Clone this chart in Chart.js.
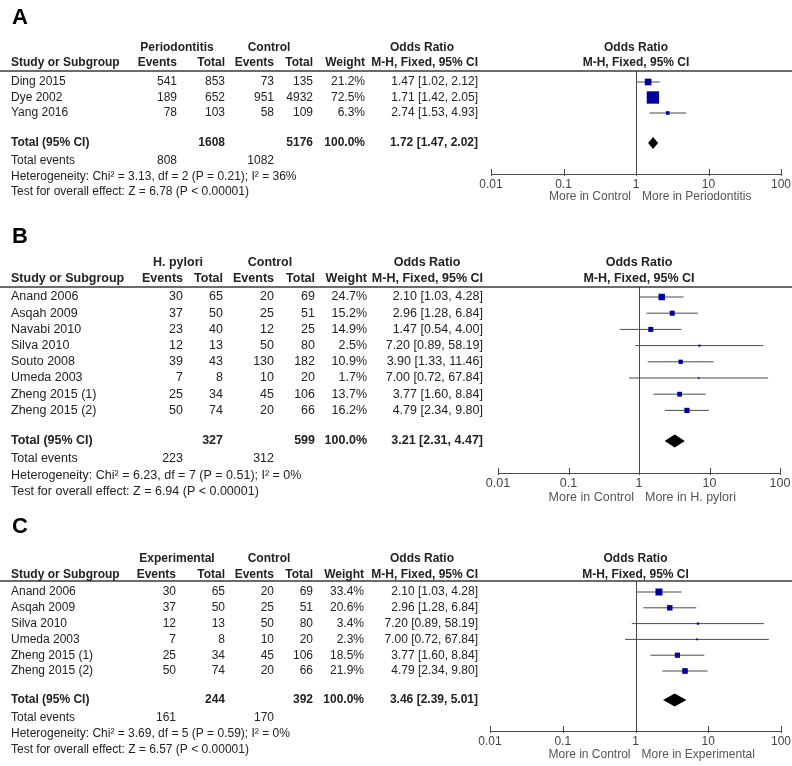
<!DOCTYPE html>
<html>
<head>
<meta charset="utf-8">
<script src="https://cdn.jsdelivr.net/npm/chart.js@4/dist/chart.umd.min.js"></script>
<style>
html,body{margin:0;padding:0;background:#fff;}
#wrap{position:relative;width:792px;height:766px;overflow:hidden;background:#fff;}
canvas{position:absolute;left:0;display:block;}
</style>
</head>
<body>
<div id="wrap">
<canvas id="cA" width="792" height="210" style="top:0px;width:792px;height:210px"></canvas>
<canvas id="cB" width="792" height="300" style="top:210px;width:792px;height:300px"></canvas>
<canvas id="cC" width="792" height="256" style="top:510px;width:792px;height:256px"></canvas>
</div>
<script>
// ---------- shared axis ----------
const axisTicks = [0.01, 0.1, 1, 10, 100];
const axisTickLabels = ["0.01", "0.1", "1", "10", "100"];

// ---------- Panel A ----------
const studiesA   = ["Ding 2015", "Dye 2002", "Yang 2016"];
const expEventsA = [541, 189, 78];
const expTotalA  = [853, 652, 103];
const ctlEventsA = [73, 951, 58];
const ctlTotalA  = [135, 4932, 109];
const weightA    = [21.2, 72.5, 6.3];
const orA        = [1.47, 1.71, 2.74];
const loA        = [1.02, 1.42, 1.53];
const hiA        = [2.12, 2.05, 4.93];
const totalsA      = [1608, 5176];
const totalEventsA = [808, 1082];
const pooledA      = [1.72, 1.47, 2.02];
const groupsA   = ["Periodontitis", "Control"];
const favoursA  = ["More in Control", "More in Periodontitis"];
const hetA  = "Heterogeneity: Chi\u00B2 = 3.13, df = 2 (P = 0.21); I\u00B2 = 36%";
const testA = "Test for overall effect: Z = 6.78 (P < 0.00001)";

// ---------- Panel B ----------
const studiesB   = ["Anand 2006", "Asqah 2009", "Navabi 2010", "Silva 2010", "Souto 2008", "Umeda 2003", "Zheng 2015 (1)", "Zheng 2015 (2)"];
const expEventsB = [30, 37, 23, 12, 39, 7, 25, 50];
const expTotalB  = [65, 50, 40, 13, 43, 8, 34, 74];
const ctlEventsB = [20, 25, 12, 50, 130, 10, 45, 20];
const ctlTotalB  = [69, 51, 25, 80, 182, 20, 106, 66];
const weightB    = [24.7, 15.2, 14.9, 2.5, 10.9, 1.7, 13.7, 16.2];
const orB        = [2.10, 2.96, 1.47, 7.20, 3.90, 7.00, 3.77, 4.79];
const loB        = [1.03, 1.28, 0.54, 0.89, 1.33, 0.72, 1.60, 2.34];
const hiB        = [4.28, 6.84, 4.00, 58.19, 11.46, 67.84, 8.84, 9.80];
const totalsB      = [327, 599];
const totalEventsB = [223, 312];
const pooledB      = [3.21, 2.31, 4.47];
const groupsB   = ["H. pylori", "Control"];
const favoursB  = ["More in Control", "More in H. pylori"];
const hetB  = "Heterogeneity: Chi\u00B2 = 6.23, df = 7 (P = 0.51); I\u00B2 = 0%";
const testB = "Test for overall effect: Z = 6.94 (P < 0.00001)";

// ---------- Panel C ----------
const studiesC   = ["Anand 2006", "Asqah 2009", "Silva 2010", "Umeda 2003", "Zheng 2015 (1)", "Zheng 2015 (2)"];
const expEventsC = [30, 37, 12, 7, 25, 50];
const expTotalC  = [65, 50, 13, 8, 34, 74];
const ctlEventsC = [20, 25, 50, 10, 45, 20];
const ctlTotalC  = [69, 51, 80, 20, 106, 66];
const weightC    = [33.4, 20.6, 3.4, 2.3, 18.5, 21.9];
const orC        = [2.10, 2.96, 7.20, 7.00, 3.77, 4.79];
const loC        = [1.03, 1.28, 0.89, 0.72, 1.60, 2.34];
const hiC        = [4.28, 6.84, 58.19, 67.84, 8.84, 9.80];
const totalsC      = [244, 392];
const totalEventsC = [161, 170];
const pooledC      = [3.46, 2.39, 5.01];
const groupsC   = ["Experimental", "Control"];
const favoursC  = ["More in Control", "More in Experimental"];
const hetC  = "Heterogeneity: Chi\u00B2 = 3.69, df = 5 (P = 0.59); I\u00B2 = 0%";
const testC = "Test for overall effect: Z = 6.57 (P < 0.00001)";

// ---------- layout (pixels, panel-relative) ----------
const FONT = '"Liberation Sans", Arial, Helvetica, sans-serif';
const TXT = '#222';
const XH = 30; // forced height of the x axis box

const layoutA = {letter:'A', H:210, letterY:24, hdr1:48, hdr2:63, line:71, row0:82, sp:15.5, axis:174,
  totalGap:0.94, foot:[18,34,49], x0:491, x1:781, moreY:197, k:1.45, dh:6, fs:12,
  cName:11, cEE:177, cET:225, cCE:274, cCT:313, cW:365, cOR:478, cORH:422, cG:[177,269]};
const layoutB = {letter:'B', H:300, letterY:33, hdr1:53, hdr2:69, line:77, row0:87, sp:16.2, axis:263,
  totalGap:0.89, foot:[18,35,51], x0:498, x1:780, moreY:288, k:1.3, dh:6.5, fs:12.5,
  cName:11, cEE:183, cET:223, cCE:274, cCT:315, cW:367, cOR:483, cORH:427, cG:[178,270]};
const layoutC = {letter:'C', H:256, letterY:23, hdr1:49, hdr2:65, line:71, row0:82, sp:15.8, axis:221,
  totalGap:0.84, foot:[18,34,50], x0:490, x1:781, moreY:245, k:1.2, dh:6.5, fs:12,
  cName:11, cEE:176, cET:225, cCE:274, cCT:313, cW:364, cOR:478, cORH:422, cG:[177,269]};

function fmtOR(o, l, h) { return o.toFixed(2) + ' [' + l.toFixed(2) + ', ' + h.toFixed(2) + ']'; }

function makePanel(id, L, d) {
  const n = d.studies.length;
  const totalRow = n + L.totalGap;
  const yMin = -(L.row0 - L.line) / L.sp;
  const yMax = yMin + (L.axis - L.line) / L.sp;

  const datasets = [];
  datasets.push({
    label: 'OR', order: 0,
    data: d.or.map((v, i) => ({x: v, y: i, w: d.weight[i]})),
    pointStyle: 'rect',
    pointRadius: ctx => (ctx.raw ? L.k * Math.sqrt(ctx.raw.w) / Math.SQRT2 : 0),
    pointHoverRadius: ctx => (ctx.raw ? L.k * Math.sqrt(ctx.raw.w) / Math.SQRT2 : 0),
    backgroundColor: '#0000A0', borderWidth: 0, showLine: false
  });
  d.studies.forEach((s, i) => {
    datasets.push({
      label: s + ' CI', order: 1,
      data: [{x: d.lo[i], y: i}, {x: d.hi[i], y: i}],
      showLine: true, borderColor: '#4a4a4a', borderWidth: 1, pointRadius: 0, pointHoverRadius: 0, fill: false
    });
  });

  const tablePlugin = {
    id: 'forestTable',
    afterDatasetsDraw(chart) {
      const ctx = chart.ctx, x = chart.scales.x, y = chart.scales.y;
      const cy = y.getPixelForValue(totalRow);
      ctx.save();
      ctx.fillStyle = '#000';
      ctx.beginPath();
      ctx.moveTo(x.getPixelForValue(d.pooled[1]), cy);
      ctx.lineTo(x.getPixelForValue(d.pooled[0]), cy - L.dh);
      ctx.lineTo(x.getPixelForValue(d.pooled[2]), cy);
      ctx.lineTo(x.getPixelForValue(d.pooled[0]), cy + L.dh);
      ctx.closePath();
      ctx.fill();
      ctx.restore();
    },
    afterDraw(chart) {
      const ctx = chart.ctx, x = chart.scales.x, y = chart.scales.y;
      const ca = chart.chartArea;
      const p1 = x.getPixelForValue(1);
      ctx.save();
      ctx.strokeStyle = '#4a4a4a'; ctx.lineWidth = 1;
      ctx.beginPath();
      ctx.moveTo(Math.round(p1) + 0.5, L.line);
      ctx.lineTo(Math.round(p1) + 0.5, Math.round(ca.bottom));
      ctx.stroke();
      x.ticks.forEach(t => {
        const px = Math.round(x.getPixelForValue(t.value)) + 0.5;
        ctx.beginPath();
        ctx.moveTo(px, Math.round(ca.bottom) - 5);
        ctx.lineTo(px, Math.round(ca.bottom) + 2);
        ctx.stroke();
      });
      ctx.strokeStyle = '#3a3a3a'; ctx.lineWidth = 1.5;
      ctx.beginPath();
      ctx.moveTo(0, L.line); ctx.lineTo(792, L.line);
      ctx.stroke();

      const font = (b) => (b ? 'bold ' : '') + L.fs + 'px ' + FONT;
      const T = (s, px, py, align, bold, color) => {
        ctx.font = font(bold); ctx.textAlign = align; ctx.fillStyle = color || TXT;
        ctx.textBaseline = 'middle'; ctx.fillText(s, px, py);
      };
      ctx.font = 'bold 22px ' + FONT; ctx.textAlign = 'left'; ctx.textBaseline = 'alphabetic';
      ctx.fillStyle = '#000'; ctx.fillText(L.letter, 12, L.letterY);

      T(d.groups[0], L.cG[0], L.hdr1, 'center', true);
      T(d.groups[1], L.cG[1], L.hdr1, 'center', true);
      T('Odds Ratio', L.cORH, L.hdr1, 'center', true);
      T('Odds Ratio', p1, L.hdr1, 'center', true);
      T('Study or Subgroup', L.cName, L.hdr2, 'left', true);
      T('Events', L.cEE, L.hdr2, 'right', true);
      T('Total', L.cET, L.hdr2, 'right', true);
      T('Events', L.cCE, L.hdr2, 'right', true);
      T('Total', L.cCT, L.hdr2, 'right', true);
      T('Weight', L.cW, L.hdr2, 'right', true);
      T('M-H, Fixed, 95% CI', L.cOR, L.hdr2, 'right', true);
      T('M-H, Fixed, 95% CI', p1, L.hdr2, 'center', true);

      d.studies.forEach((s, i) => {
        const py = y.getPixelForValue(i);
        T(s, L.cName, py, 'left');
        T(String(d.expEvents[i]), L.cEE, py, 'right');
        T(String(d.expTotal[i]), L.cET, py, 'right');
        T(String(d.ctlEvents[i]), L.cCE, py, 'right');
        T(String(d.ctlTotal[i]), L.cCT, py, 'right');
        T(d.weight[i].toFixed(1) + '%', L.cW, py, 'right');
        T(fmtOR(d.or[i], d.lo[i], d.hi[i]), L.cOR, py, 'right');
      });
      const ty = y.getPixelForValue(totalRow);
      T('Total (95% CI)', L.cName, ty, 'left', true);
      T(String(d.totals[0]), L.cET, ty, 'right', true);
      T(String(d.totals[1]), L.cCT, ty, 'right', true);
      T('100.0%', L.cW, ty, 'right', true);
      T(fmtOR(d.pooled[0], d.pooled[1], d.pooled[2]), L.cOR, ty, 'right', true);
      T('Total events', L.cName, ty + L.foot[0], 'left');
      T(String(d.totalEvents[0]), L.cEE, ty + L.foot[0], 'right');
      T(String(d.totalEvents[1]), L.cCE, ty + L.foot[0], 'right');
      T(d.het, L.cName, ty + L.foot[1], 'left');
      T(d.test, L.cName, ty + L.foot[2], 'left');
      T(d.favours[0], p1 - 5, L.moreY, 'right', false, '#555');
      T(d.favours[1], p1 + 6, L.moreY, 'left', false, '#555');
      ctx.restore();
    }
  };

  return new Chart(document.getElementById(id), {
    type: 'scatter',
    data: {datasets},
    options: {
      responsive: false, animation: false, events: [],
      layout: {padding: {top: L.line, left: L.x0, right: 792 - L.x1, bottom: L.H - L.axis - XH}},
      plugins: {legend: {display: false}, tooltip: {enabled: false}},
      scales: {
        x: {
          type: 'logarithmic', position: 'bottom', min: 0.01, max: 100,
          grid: {display: false, drawTicks: false, tickLength: 0},
          border: {display: true, color: '#4a4a4a', width: 1},
          afterBuildTicks: (s) => { s.ticks = axisTicks.map(v => ({value: v})); },
          afterFit: (s) => { s.height = XH; s.paddingLeft = 0; s.paddingRight = 0; },
          ticks: {
            autoSkip: false, maxRotation: 0, minRotation: 0, padding: 3,
            color: '#444', font: {family: FONT, size: L.fs},
            callback: (v) => { const k = axisTicks.indexOf(v); return k >= 0 ? axisTickLabels[k] : ''; }
          }
        },
        y: {type: 'linear', display: false, reverse: true, min: yMin, max: yMax, grace: 0}
      }
    },
    plugins: [tablePlugin]
  });
}

makePanel('cA', layoutA, {studies: studiesA, expEvents: expEventsA, expTotal: expTotalA, ctlEvents: ctlEventsA,
  ctlTotal: ctlTotalA, weight: weightA, or: orA, lo: loA, hi: hiA, totals: totalsA, totalEvents: totalEventsA,
  pooled: pooledA, groups: groupsA, favours: favoursA, het: hetA, test: testA});
makePanel('cB', layoutB, {studies: studiesB, expEvents: expEventsB, expTotal: expTotalB, ctlEvents: ctlEventsB,
  ctlTotal: ctlTotalB, weight: weightB, or: orB, lo: loB, hi: hiB, totals: totalsB, totalEvents: totalEventsB,
  pooled: pooledB, groups: groupsB, favours: favoursB, het: hetB, test: testB});
makePanel('cC', layoutC, {studies: studiesC, expEvents: expEventsC, expTotal: expTotalC, ctlEvents: ctlEventsC,
  ctlTotal: ctlTotalC, weight: weightC, or: orC, lo: loC, hi: hiC, totals: totalsC, totalEvents: totalEventsC,
  pooled: pooledC, groups: groupsC, favours: favoursC, het: hetC, test: testC});
</script>
</body>
</html>
